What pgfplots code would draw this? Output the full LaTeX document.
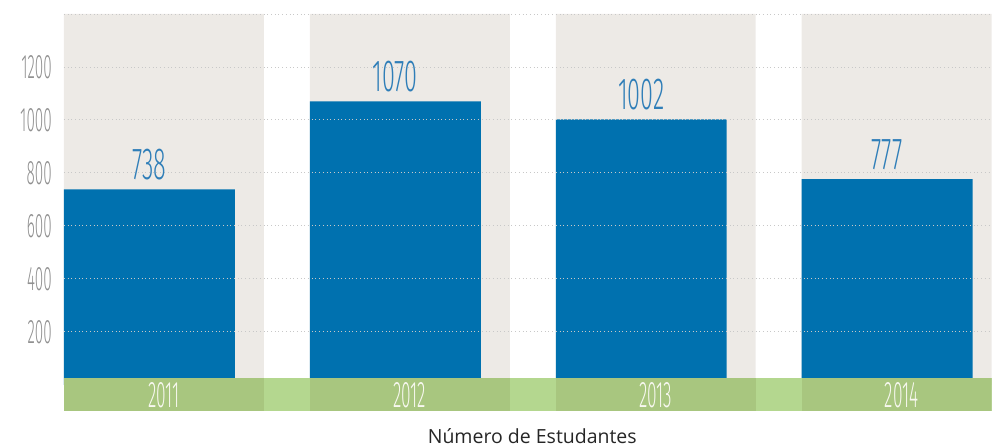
\documentclass[border=0pt]{standalone}
\usepackage{pgfplots}
\pgfplotsset{compat=1.18}
\usepackage{graphicx}
\usepackage{fontspec}
\setmainfont{Open Sans}
\newfontfamily\thinfont{Fira Sans Light}
\definecolor{beige}{HTML}{EDEAE6}
\definecolor{barblue}{HTML}{0071AF}
\definecolor{valblue}{HTML}{2F7EB8}
\definecolor{gdark}{HTML}{A8C67F}
\definecolor{glight}{HTML}{B4D78F}
\definecolor{tickgray}{HTML}{909090}
\definecolor{gridgray}{HTML}{C8C8C8}
\definecolor{yearwhite}{HTML}{F8F8F0}
\newcommand{\ticktxt}[1]{{\fontsize{34}{34}\thinfont\color{tickgray}\scalebox{0.45}[1]{#1}}}
\newcommand{\yeartxt}[1]{{\fontsize{37}{37}\thinfont\color{yearwhite}\scalebox{0.47}[1]{#1}}}
\newcommand{\valtxt}[1]{{\fontsize{45}{45}\thinfont\color{valblue}\scalebox{0.52}[1]{#1}}}
\pgfplotstableread{
x y
85.5 738
331.5 1070
577.5 1002
823.5 777
}\students
\begin{document}
\begin{tikzpicture}
\begin{axis}[
  scale only axis, width=928pt, height=397.5pt,
  xmin=0, xmax=928, ymin=-100, ymax=1400,
  axis line style={draw=none},
  axis on top,
  major tick length=0pt,
  ytick={200,400,600,800,1000,1200},
  yticklabels={\ticktxt{200},\ticktxt{400},\ticktxt{600},\ticktxt{800},\ticktxt{1000},\ticktxt{1200}},
  extra y ticks={1400}, extra y tick labels={},
  extra y tick style={grid=major},
  ymajorgrids,
  grid style={gridgray, line width=0.9pt, dash pattern=on 1pt off 2.7pt},
  yticklabel style={anchor=east, inner sep=0pt, xshift=-12pt},
  xtick={100,346,592,838},
  xticklabels={\yeartxt{2011},\yeartxt{2012},\yeartxt{2013},\yeartxt{2014}},
  xticklabel style={anchor=base, inner sep=0pt, yshift=3.5pt},
  /pgf/number format/.cd, 1000 sep={}, assume math mode=true,
]
% beige columns
\addplot[ybar, bar width=200, bar shift=0pt, fill=beige, draw=none]
  coordinates {(100,1400) (346,1400) (592,1400) (838,1400)};
% bars
\addplot[ybar, bar width=171, bar shift=0pt, fill=barblue, draw=none,
  nodes near coords={\valtxt{\pgfmathprintnumber{\pgfplotspointmeta}}},
  every node near coord/.append style={anchor=base, inner sep=0pt, yshift=10pt}]
  table[x=x, y=y] {\students};
% green band
\addplot[fill=glight, draw=none] coordinates {(0,-100) (928,-100) (928,26) (0,26)} -- cycle;
\addplot[fill=gdark, draw=none] coordinates {(0,-100) (200,-100) (200,26) (0,26)} -- cycle;
\addplot[fill=gdark, draw=none] coordinates {(246,-100) (446,-100) (446,26) (246,26)} -- cycle;
\addplot[fill=gdark, draw=none] coordinates {(492,-100) (692,-100) (692,26) (492,26)} -- cycle;
\addplot[fill=gdark, draw=none] coordinates {(738,-100) (938,-100) (938,26) (738,26)} -- cycle;
\end{axis}
\node[anchor=base, inner sep=0pt, font=\fontsize{19.5}{19.5}\selectfont, text=black!85]
  at ([shift={(4.5pt,-32.5pt)}]current axis.south) {Número de Estudantes};
\path ([shift={(-64pt,-36.5pt)}]current axis.south west) rectangle ([shift={(0pt,14pt)}]current axis.north east);
\end{tikzpicture}
\end{document}
